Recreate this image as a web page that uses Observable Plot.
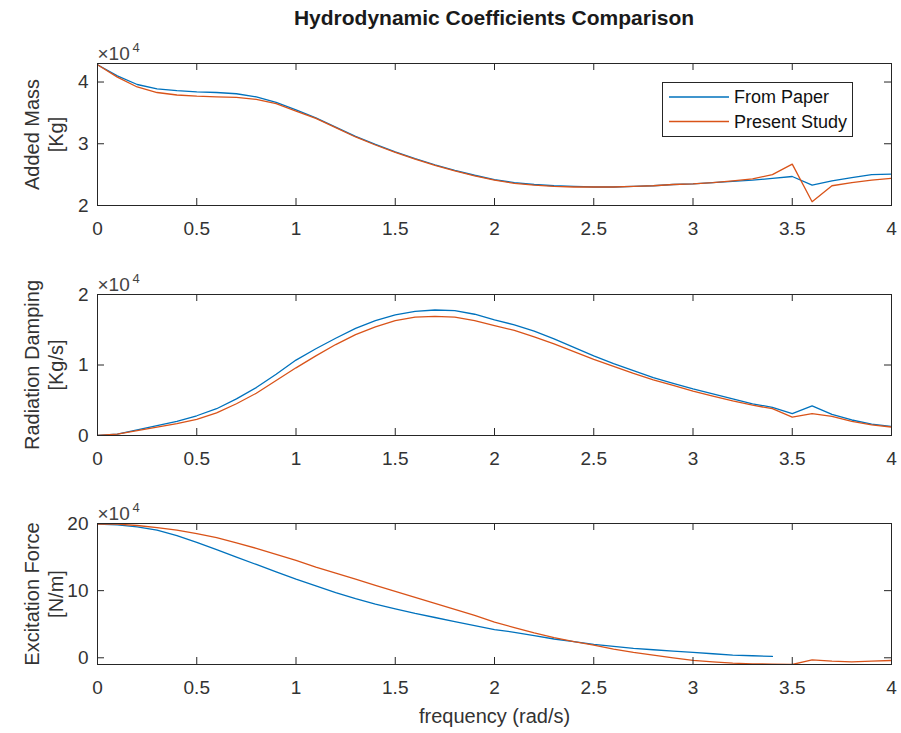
<!DOCTYPE html>
<html>
<head>
<meta charset="utf-8">
<script src="https://cdn.jsdelivr.net/npm/d3@7"></script>
<script src="https://cdn.jsdelivr.net/npm/@observablehq/plot@0.6"></script>
<style>
  html, body { margin: 0; padding: 0; background: #fff; }
  #wrap { position: relative; width: 901px; height: 733px; font-family: "Liberation Sans", Arial, sans-serif; color: #262626; }
  #title { position: absolute; left: 97px; width: 794px; top: 6px; text-align: center; font-weight: bold; font-size: 21px; line-height: 24px; color: #1a1a1a; }
  .panel { position: absolute; left: 0; }
  #legend { position: absolute; left: 662px; top: 82px; width: 189px; height: 53px; border: 1px solid #262626; background: #fff; }
</style>
</head>
<body>
<div id="wrap">
  <div id="title">Hydrodynamic Coefficients Comparison</div>
</div>
<script>
// ---- data (values in units of 10^4) ----
const freq = [0.0,0.1,0.2,0.3,0.4,0.5,0.6,0.7,0.8,0.9,1.0,1.1,1.2,1.3,1.4,1.5,1.6,1.7,1.8,1.9,2.0,
              2.1,2.2,2.3,2.4,2.5,2.6,2.7,2.8,2.9,3.0,3.1,3.2,3.3,3.4,3.5,3.6,3.7,3.8,3.9,4.0];

const seriesNames = ["From Paper", "Present Study"];
const seriesColors = ["#0072BD", "#D95319"];

const addedMassPaper = [4.28,4.10,3.96,3.89,3.86,3.84,3.83,3.81,3.76,3.67,3.55,3.42,3.27,3.12,2.99,2.87,2.76,2.66,2.57,2.49,2.42,
                        2.37,2.34,2.32,2.31,2.30,2.30,2.31,2.32,2.34,2.35,2.37,2.39,2.41,2.44,2.47,2.33,2.40,2.45,2.50,2.51];
const addedMassStudy = [4.28,4.08,3.92,3.83,3.79,3.77,3.76,3.75,3.72,3.65,3.53,3.41,3.26,3.11,2.98,2.86,2.75,2.65,2.56,2.48,2.41,
                        2.36,2.33,2.31,2.30,2.30,2.30,2.31,2.32,2.34,2.35,2.37,2.40,2.43,2.50,2.67,2.06,2.32,2.37,2.41,2.44];

const dampingPaper = [0.00,0.02,0.08,0.14,0.20,0.28,0.38,0.52,0.68,0.87,1.07,1.23,1.38,1.52,1.63,1.71,1.76,1.78,1.77,1.72,1.64,
                      1.57,1.48,1.37,1.25,1.13,1.02,0.92,0.82,0.74,0.66,0.59,0.52,0.45,0.40,0.31,0.42,0.30,0.22,0.16,0.13];
const dampingStudy = [0.00,0.02,0.07,0.12,0.17,0.23,0.32,0.45,0.60,0.78,0.96,1.13,1.29,1.43,1.54,1.63,1.68,1.69,1.68,1.63,1.56,
                      1.49,1.40,1.30,1.19,1.08,0.98,0.88,0.79,0.71,0.63,0.56,0.49,0.43,0.38,0.26,0.31,0.27,0.20,0.15,0.12];

const excitationPaper = [19.9,19.8,19.5,19.0,18.2,17.2,16.1,15.0,13.9,12.8,11.7,10.7,9.7,8.8,8.0,7.3,6.6,6.0,5.4,4.8,4.2,
                         3.8,3.3,2.8,2.4,2.0,1.7,1.4,1.2,1.0,0.8,0.6,0.4,0.3,0.2];
const excitationStudy = [19.9,19.9,19.7,19.4,19.0,18.5,17.9,17.1,16.3,15.4,14.5,13.5,12.6,11.7,10.8,9.9,9.0,8.1,7.2,6.3,5.3,
                         4.5,3.7,3.0,2.4,1.9,1.3,0.8,0.4,0.0,-0.4,-0.6,-0.8,-0.9,-0.95,-1.0,-0.3,-0.5,-0.6,-0.5,-0.4];

const xTicks = [0, 0.5, 1, 1.5, 2, 2.5, 3, 3.5, 4];
const addedMassTicks = [2, 3, 4];
const dampingTicks = [0, 1, 2];
const excitationTicks = [0, 10, 20];

const xLabel = "frequency (rad/s)";
const exponentBase = "×10";
const exponent = "4";

// ---- drawing ----
const axisColor = "#262626";
const font = "Liberation Sans, Arial, sans-serif";

function rowsOf(values, name) {
  return values.map((v, i) => ({x: freq[i], y: v, series: name}));
}

function panel({paper, study, yDomain, yTicks, label, plotHeight, top, xlabel}) {
  const mt = 40, mb = 60;
  const data = [...rowsOf(paper, seriesNames[0]), ...rowsOf(study, seriesNames[1])];
  const marks = [
    Plot.line(data, {x: "x", y: "y", z: "series", stroke: "series", strokeWidth: 1.3, clip: true}),
    Plot.frame({stroke: axisColor, strokeWidth: 1}),
    Plot.tickX(xTicks, {x: d => d, stroke: axisColor, insetTop: plotHeight - 7}),
    Plot.tickX(xTicks, {x: d => d, stroke: axisColor, insetBottom: plotHeight - 7}),
    Plot.tickY(yTicks, {y: d => d, stroke: axisColor, insetRight: 794 - 7}),
    Plot.tickY(yTicks, {y: d => d, stroke: axisColor, insetLeft: 794 - 7}),
    Plot.axisX(xTicks, {anchor: "bottom", tickSize: 0, tickPadding: 16, tickFormat: d => String(d), label: null, fontSize: 19, fill: "#333"}),
    Plot.axisY(yTicks, {anchor: "left", tickSize: 0, tickPadding: 9, tickFormat: d => String(d), label: null, fontSize: 19, fill: "#333"}),
    Plot.text([label], {frameAnchor: "left", textAnchor: "middle", lineAnchor: "middle", rotate: -90, dx: -54, fontSize: 20, lineHeight: 1.2, fill: "#333"}),
    Plot.text([exponentBase], {frameAnchor: "top-left", textAnchor: "start", lineAnchor: "bottom", dy: -4, fontSize: 19, fill: "#444"}),
    Plot.text([exponent], {frameAnchor: "top-left", textAnchor: "start", lineAnchor: "bottom", dx: 35, dy: -12, fontSize: 13, fill: "#444"})
  ];
  if (xlabel) {
    marks.push(Plot.text([xlabel], {frameAnchor: "bottom", lineAnchor: "middle", dy: 52, fontSize: 20, fill: "#333"}));
  }
  const svg = Plot.plot({
    width: 901,
    height: mt + plotHeight + mb,
    marginTop: mt, marginBottom: mb, marginLeft: 97, marginRight: 10,
    style: {fontFamily: font, fontSize: "18px", color: axisColor, background: "transparent", overflow: "visible"},
    x: {domain: [0, 4]},
    y: {domain: yDomain},
    color: {domain: seriesNames, range: seriesColors},
    marks
  });
  svg.classList.add("panel");
  svg.style.top = (top - mt) + "px";
  return svg;
}

const wrap = document.getElementById("wrap");
wrap.appendChild(panel({paper: addedMassPaper, study: addedMassStudy, yDomain: [2, 4.3], yTicks: addedMassTicks,
  label: "Added Mass\n[Kg]", plotHeight: 142, top: 63}));
wrap.appendChild(panel({paper: dampingPaper, study: dampingStudy, yDomain: [0, 2], yTicks: dampingTicks,
  label: "Radiation Damping\n[Kg/s]", plotHeight: 141, top: 294}));
wrap.appendChild(panel({paper: excitationPaper, study: excitationStudy, yDomain: [-1, 20], yTicks: excitationTicks,
  label: "Excitation Force\n[N/m]", plotHeight: 141, top: 523, xlabel: xLabel}));

// legend
const legend = document.createElement("div");
legend.id = "legend";
const ns = "http://www.w3.org/2000/svg";
const lsvg = document.createElementNS(ns, "svg");
lsvg.setAttribute("width", 189);
lsvg.setAttribute("height", 53);
seriesNames.forEach((name, i) => {
  const y = 14 + i * 24.5;
  const line = document.createElementNS(ns, "line");
  line.setAttribute("x1", 6); line.setAttribute("x2", 66);
  line.setAttribute("y1", y); line.setAttribute("y2", y);
  line.setAttribute("stroke", seriesColors[i]); line.setAttribute("stroke-width", 1.5);
  lsvg.appendChild(line);
  const t = document.createElementNS(ns, "text");
  t.setAttribute("x", 71); t.setAttribute("y", y);
  t.setAttribute("dy", "0.35em");
  t.setAttribute("font-family", font); t.setAttribute("font-size", 18);
  t.setAttribute("fill", "#111");
  t.textContent = name;
  lsvg.appendChild(t);
});
legend.appendChild(lsvg);
wrap.appendChild(legend);
</script>
</body>
</html>
